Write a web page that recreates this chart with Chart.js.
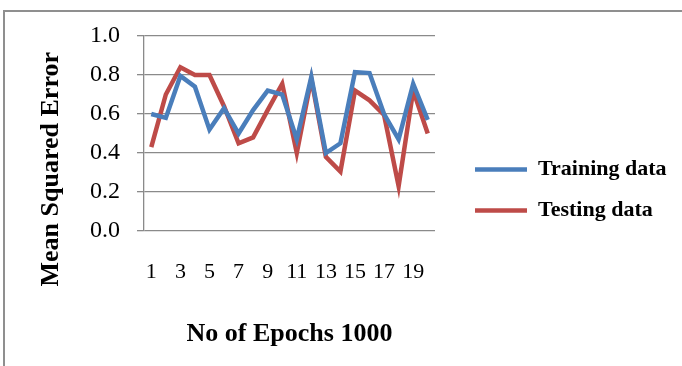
<!DOCTYPE html>
<html>
<head>
<meta charset="utf-8">
<script src="https://cdn.jsdelivr.net/npm/chart.js@4"></script>
<style>
  html, body { margin: 0; padding: 0; background: #fff; overflow: hidden; }
  #frame {
    position: absolute; left: 3px; top: 10px; width: 720px; height: 400px;
    border: 2px solid #8f8f8f; box-sizing: border-box;
  }
  #wrap { position: absolute; left: 0; top: 0; width: 682px; height: 366px; }
</style>
</head>
<body>
<div id="frame"></div>
<div id="wrap"><canvas id="mse"></canvas></div>
<script>
const epochs = ["1", "2", "3", "4", "5", "6", "7", "8", "9", "10",
                "11", "12", "13", "14", "15", "16", "17", "18", "19", "20"];
const trainingMse = [0.60, 0.58, 0.795, 0.74, 0.52, 0.63, 0.50, 0.62, 0.72, 0.70,
                     0.47, 0.79, 0.40, 0.45, 0.815, 0.81, 0.60, 0.47, 0.755, 0.57];
const testingMse = [0.43, 0.70, 0.84, 0.80, 0.80, 0.64, 0.45, 0.48, 0.62, 0.755,
                    0.40, 0.78, 0.38, 0.305, 0.72, 0.67, 0.595, 0.23, 0.72, 0.50];
const yTicks = [0.0, 0.2, 0.4, 0.6, 0.8, 1.0];

const serif = "'Liberation Serif', 'Times New Roman', serif";

// nudge the legend a bit further right / up than Chart.js puts it
const legendNudge = {
  id: "legendNudge",
  afterLayout(chart) {
    const lg = chart.legend;
    if (!lg) return;
    lg.left = 456;
    lg.right = 682;
    lg.width = lg.right - lg.left;
    lg.top -= 6;
    lg.bottom -= 6;
  },
};

const ctx = document.getElementById("mse").getContext("2d");
new Chart(ctx, {
  type: "line",
  data: {
    labels: epochs,
    datasets: [
      {
        label: "Training data",
        data: trainingMse,
        borderColor: "#4a7ebb",
        backgroundColor: "#4a7ebb",
        borderWidth: 4.5,
        pointRadius: 0,
        tension: 0,
      },
      {
        label: "Testing data",
        data: testingMse,
        borderColor: "#be4b48",
        backgroundColor: "#be4b48",
        borderWidth: 4.5,
        pointRadius: 0,
        tension: 0,
      },
    ],
  },
  plugins: [legendNudge],
  options: {
    responsive: true,
    maintainAspectRatio: false,
    animation: false,
    layout: { padding: { left: 30, right: 112, top: 36, bottom: 10 } },
    plugins: {
      tooltip: { enabled: false },
      legend: {
        position: "right",
        labels: {
          usePointStyle: true,
          pointStyle: "line",
          pointStyleWidth: 52,
          padding: 19,
          color: "#000",
          font: { family: serif, size: 22, weight: "bold" },
        },
      },
    },
    scales: {
      x: {
        offset: true,
        afterFit: (s) => { s.height = 125; },
        grid: { display: false },
        border: { display: false },
        ticks: {
          autoSkip: false,
          maxRotation: 0,
          padding: 20,
          color: "#000",
          font: { family: serif, size: 22 },
          callback: (val, idx) => (idx % 2 === 0 ? epochs[idx] : ""),
        },
        title: {
          display: true,
          text: "No of Epochs 1000",
          color: "#000",
          font: { family: serif, size: 26, weight: "bold" },
          padding: { top: 4, bottom: 6 },
        },
      },
      y: {
        min: 0,
        max: 1,
        afterFit: (s) => { s.width = 114; },
        afterBuildTicks: (scale) => {
          scale.ticks = yTicks.map((v) => ({ value: v }));
        },
        grid: { color: "#8a8a8a", lineWidth: 1.3, tickLength: 7 },
        border: { color: "#8a8a8a", width: 1.3 },
        ticks: {
          padding: 17,
          color: "#000",
          font: { family: serif, size: 24 },
          callback: (v) => Number(v).toFixed(1),
        },
        title: {
          display: true,
          text: "Mean Squared Error           ",
          color: "#000",
          font: { family: serif, size: 26, weight: "bold" },
          padding: { top: 6, bottom: 4 },
        },
      },
    },
  },
});
</script>
</body>
</html>
